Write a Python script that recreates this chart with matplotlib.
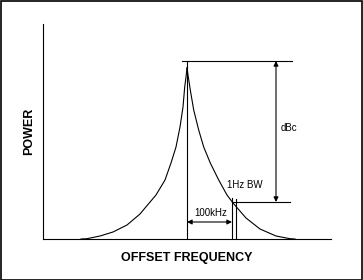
import matplotlib
matplotlib.use("Agg")
import matplotlib.pyplot as plt
from matplotlib.patches import Rectangle

plt.rcParams["font.family"] = ["Liberation Sans", "DejaVu Sans"]

# curva de ruido de fase (unidades arbitrarias, portadora en offset 0)
offset_izq = [-106, -100, -87, -74, -60, -47, -42, -31, -22, -16, -11, -7, -4, -2.3, -1, 0]
potencia_izq = [0, 0.3, 3, 7, 14, 25, 31, 44, 59, 76, 92, 112, 132, 152, 162, 171]
offset_der = [0, 1, 3.3, 6.7, 11.7, 16.7, 23.3, 31.7, 40, 46, 59, 73, 89, 103, 108]
potencia_der = [171, 164, 149, 129, 109, 92, 76, 59, 44, 36, 21, 10, 3, 0.3, 0]

# marcas del esquema
pico = 178          # nivel de la portadora
nivel_ruido = 37    # nivel del ruido a 100kHz
offset_medida = 45  # 100kHz
ancho_bw = 4        # 1Hz BW
x_dbc = 89

fig = plt.figure(figsize=(3.63, 2.80), dpi=100)
ax = fig.add_axes([43 / 363, 41 / 280, 288 / 363, 215 / 280])
ax.set_xlim(-144, 144)
ax.set_ylim(0, 215)

lw = 0.8
ax.plot(offset_izq, potencia_izq, color="black", lw=lw, solid_joinstyle="round")
ax.plot(offset_der, potencia_der, color="black", lw=lw, solid_joinstyle="round")

# portadora
ax.plot([0, 0], [0, pico], color="black", lw=lw)
ax.plot([-5, 105], [pico, pico], color="black", lw=lw)

# nivel de ruido y ventana de 1Hz
ax.plot([offset_medida + 1, 103], [nivel_ruido, nivel_ruido], color="black", lw=lw)
ax.plot([offset_medida, offset_medida], [0, nivel_ruido + 4], color="black", lw=lw)
ax.plot([offset_medida + ancho_bw] * 2, [0, nivel_ruido + 3], color="black", lw=lw)

flecha = dict(arrowstyle="<|-|>", color="black", lw=lw, mutation_scale=7, shrinkA=0, shrinkB=0)
ax.annotate("", xy=(x_dbc, pico), xytext=(x_dbc, nivel_ruido), arrowprops=flecha)
ax.annotate("", xy=(0, 17), xytext=(offset_medida, 17), arrowprops=flecha)

ax.text(x_dbc + 5, 111, "dBc", fontsize=7, va="center", ha="left")
ax.text(58, 54, "1Hz BW", fontsize=7, va="center", ha="center")
ax.text(offset_medida / 2 + 1, 26, "100kHz", fontsize=7, va="center", ha="center")

for s in ["top", "right"]:
    ax.spines[s].set_visible(False)
ax.spines["left"].set_linewidth(lw)
ax.spines["bottom"].set_linewidth(lw)
ax.set_xticks([])
ax.set_yticks([])

fig.text(187 / 363, 1 - 258 / 280, "OFFSET FREQUENCY", fontsize=9, fontweight="bold",
         ha="center", va="center")
fig.text(29 / 363, 1 - 131 / 280, "POWER", fontsize=9, fontweight="bold",
         ha="center", va="center", rotation=90)

fig.patches.append(Rectangle((0.5 / 363, 0.5 / 280), 1 - 1.5 / 363, 1 - 1.5 / 280,
                             transform=fig.transFigure, fill=False, edgecolor="black", lw=1.2))

fig.savefig("out.png", dpi=100)
